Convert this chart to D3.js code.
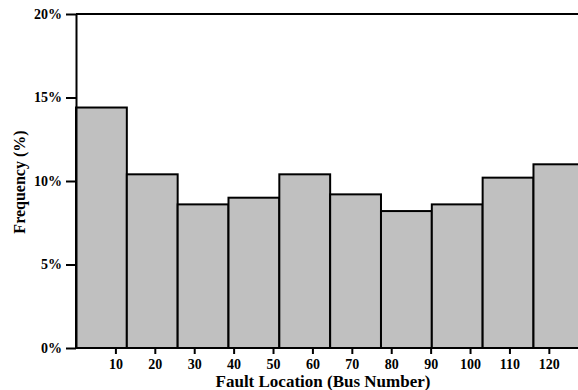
<!DOCTYPE html>
<html lang="en">
  <head>
    <meta charset="utf-8" />
    <title>Fault Location Histogram</title>
    <script src="https://cdn.jsdelivr.net/npm/d3@7/dist/d3.min.js"></script>
    <style>
      body { margin: 0; background: #fff; }
      svg { display: block; }
      .axis text {
        font-family: "Liberation Serif", "Times New Roman", serif;
        font-weight: bold;
        font-size: 14px;
        fill: #000;
      }
      .axis path, .axis line { stroke: #000; stroke-width: 2px; }
      .label {
        font-family: "Liberation Serif", "Times New Roman", serif;
        font-weight: bold;
        fill: #000;
      }
    </style>
  </head>
  <body>
    <script>
      // histogram bins (bus number) and frequencies (%)
      var binWidth = 12.9;
      var binStarts = [0, 12.9, 25.8, 38.7, 51.6, 64.5, 77.4, 90.3, 103.2, 116.1];
      var freq = [14.4, 10.4, 8.6, 9.0, 10.4, 9.2, 8.2, 8.6, 10.2, 11.0];
      var xTicks = [10, 20, 30, 40, 50, 60, 70, 80, 90, 100, 110, 120];
      var yTicks = [0, 5, 10, 15, 20];

      var W = 578, H = 390;
      var margin = { top: 14, right: 0, bottom: 42, left: 76 };

      var svg = d3.select("body").append("svg")
        .attr("width", W)
        .attr("height", H);

      // domain runs past the visible right edge (picture is cropped)
      var x = d3.scaleLinear()
        .domain([0, 127.4])
        .range([margin.left, W]);
      var y = d3.scaleLinear()
        .domain([0, 20])
        .range([H - margin.bottom, margin.top]);

      // bars
      svg.append("g")
        .selectAll("rect")
        .data(freq)
        .join("rect")
        .attr("x", (d, i) => x(binStarts[i]))
        .attr("y", d => y(d))
        .attr("width", (d, i) => x(binStarts[i] + binWidth) - x(binStarts[i]))
        .attr("height", d => y(0) - y(d))
        .attr("fill", "#c0c0c0")
        .attr("stroke", "#000")
        .attr("stroke-width", 2);

      // top frame line
      svg.append("line")
        .attr("x1", x(0)).attr("x2", W)
        .attr("y1", y(20)).attr("y2", y(20))
        .attr("stroke", "#000")
        .attr("stroke-width", 2);

      // axes
      svg.append("g")
        .attr("class", "axis")
        .attr("transform", `translate(0,${y(0)})`)
        .call(d3.axisBottom(x).tickValues(xTicks).tickSize(6).tickSizeOuter(0).tickPadding(5))
        .call(g => g.select(".domain").attr("d", `M${x(0)},0H${W}`));

      svg.append("g")
        .attr("class", "axis")
        .attr("transform", `translate(${x(0)},0)`)
        .call(d3.axisLeft(y).tickValues(yTicks).tickSize(10).tickSizeOuter(0).tickPadding(4)
          .tickFormat(d => d + "%"));

      // axis titles
      svg.append("text")
        .attr("class", "label")
        .attr("x", 323)
        .attr("y", 387)
        .attr("text-anchor", "middle")
        .style("font-size", "17px")
        .text("Fault Location (Bus Number)");

      svg.append("text")
        .attr("class", "label")
        .attr("transform", "translate(25,182) rotate(-90)")
        .attr("text-anchor", "middle")
        .style("font-size", "16px")
        .text("Frequency (%)");
    </script>
  </body>
</html>
